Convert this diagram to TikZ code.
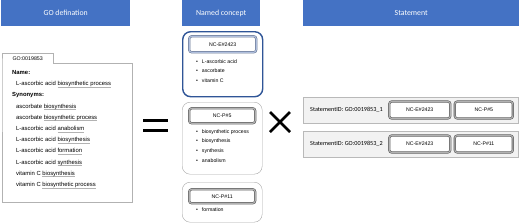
\documentclass[tikz,border=0pt]{standalone}
\usepackage{fontspec}
\setmainfont{Carlito}
\newfontfamily\arialfont{Liberation Sans}
\usetikzlibrary{positioning}
\definecolor{hdrblue}{HTML}{4472C4}
\definecolor{ncblue}{HTML}{2F5597}
\definecolor{ncframe}{HTML}{8EA4CF}
\definecolor{boxgray}{HTML}{A6A6A6}
\definecolor{rowfill}{HTML}{F2F2F2}
\definecolor{darkframe}{HTML}{595959}
\tikzset{
  header/.style   = {fill=hdrblue, text=white, anchor=north west,
                     minimum height=26pt, inner sep=0pt,
                     font=\fontsize{7.8}{9}\selectfont},
  gotext/.style   = {anchor=north west, align=left, inner sep=0pt,
                     font=\arialfont\fontsize{5.9}{11.2}\selectfont},
  concept/.style  = {draw=boxgray, rounded corners=8pt, anchor=north west,
                     minimum width=80pt, inner sep=0pt},
  ncbox/.style    = {draw=darkframe, line width=0.55pt, double=gray!60,
                     double distance=1.1pt, rounded corners=2.5pt, fill=white,
                     inner sep=0pt, font=\arialfont\fontsize{5.2}{6}\selectfont},
  ncboxblue/.style= {ncbox, draw=ncframe!70!black, double=ncframe!70},
  bullets/.style  = {anchor=north west, align=left, inner sep=0pt,
                     font=\arialfont\fontsize{5.2}{9.8}\selectfont},
  stmtrow/.style  = {draw=gray!55, fill=rowfill, anchor=north west,
                     minimum width=215pt, minimum height=26pt, inner sep=0pt},
  stmtid/.style   = {anchor=west, inner sep=0pt, font=\fontsize{6.2}{7}\selectfont},
  bigsign/.style  = {line width=3.2pt},
}
\newcommand{\bul}{\textbullet\hspace{4pt}}
\newcommand{\gul}[1]{\setbox0\hbox{#1}\rlap{\textcolor{gray!60}{\rule[-1.3pt]{\wd0}{0.35pt}}}\box0}

\begin{document}
\begin{tikzpicture}[x=1pt, y=-1pt]
    \useasboundingbox (0,0) rectangle (520,223);

    % column headers
    \node[header, minimum width=129pt] (hgo)   at (1,0)   {GO defination};
    \node[header, minimum width=78pt]  (hnc)   at (182,0) {Named concept};
    \node[header, minimum width=216pt] (hstmt) at (303,0) {Statement};

    % GO definition card
    \node[anchor=north west, minimum width=130pt, minimum height=139pt,
          inner sep=0pt] (gobody) at (2,63) {};
    \node[anchor=south west, minimum width=51pt, minimum height=9pt, inner sep=0pt,
          font=\arialfont\fontsize{5.3}{6}\selectfont] (gotab) at (gobody.north west) {GO:0019853};
    \draw[draw=gray!60] (gotab.south west) -- (gotab.north west) -- (gotab.north east)
      -- (gotab.south east) -- (gobody.north east) -- (gobody.south east)
      -- (gobody.south west) -- cycle;
    \node[gotext] (golines) at (12,70.3) {%
      \textbf{Name:}\\
      \hspace*{4pt}L-ascorbic acid \gul{biosynthetic process}\\
      \textbf{Synonyms:}\\
      \hspace*{4pt}ascorbate \gul{biosynthesis}\\
      \hspace*{4pt}ascorbate \gul{biosynthetic process}\\
      \hspace*{4pt}L-ascorbic acid \gul{anabolism}\\
      \hspace*{4pt}L-ascorbic acid \gul{biosynthesis}\\
      \hspace*{4pt}L-ascorbic acid \gul{formation}\\
      \hspace*{4pt}L-ascorbic acid \gul{synthesis}\\
      \hspace*{4pt}vitamin C \gul{biosynthesis}\\
      \hspace*{4pt}vitamin C \gul{biosynthetic process}};

    % equals
    \draw[bigsign] (143,120.7) -- (168,120.7);
    \draw[bigsign] (143,130.8) -- (168,130.8);

    % named concepts
    \node[concept, draw=ncblue, line width=1.4pt, minimum height=65pt] (c1) at (182,31) {};
    \node[ncboxblue, minimum width=67pt, minimum height=16pt, anchor=north] (nce) at ([yshift=-5pt]c1.north) {NC-E\#2423};
    \node[bullets] (l1) at ([xshift=7pt,yshift=-6.5pt]nce.south west) {%
      \bul L-ascorbic acid\\ \bul ascorbate\\ \bul vitamin C};

    \node[concept, minimum height=72pt] (c2) at (182,102) {};
    \node[ncbox, minimum width=66pt, minimum height=15pt, anchor=north] (ncp5) at ([yshift=-6pt]c2.north) {NC-P\#5};
    \node[bullets] (l2) at ([xshift=7pt,yshift=-5.5pt]ncp5.south west) {%
      \bul biosynthetic process\\ \bul biosynthesis\\ \bul synthesis\\ \bul anabolism};

    \node[concept, minimum height=40pt] (c3) at (182,182) {};
    \node[ncbox, minimum width=66pt, minimum height=14pt, anchor=north] (ncp11) at ([yshift=-7pt]c3.north) {NC-P\#11};
    \node[bullets] (l3) at ([xshift=7pt,yshift=-4pt]ncp11.south west) {\bul formation};

    % times
    \draw[bigsign, line width=2.8pt] (270,112) -- (290,132);
    \draw[bigsign, line width=2.8pt] (270,132) -- (290,112);

    % statements
    \node[stmtrow] (row1) at (303,97) {};
    \node[stmtid] (id1) at ([xshift=7pt]row1.west) {StatementID: GO:0019853\_1};
    \node[ncbox, minimum width=61pt, minimum height=17pt, anchor=west] (r1a) at (389,110) {NC-E\#2423};
    \node[ncbox, minimum width=58pt, minimum height=17pt, right=4pt of r1a] (r1b) {NC-P\#5};

    \node[stmtrow] (row2) at (303,131) {};
    \node[stmtid] (id2) at ([xshift=7pt]row2.west) {StatementID: GO:0019853\_2};
    \node[ncbox, minimum width=61pt, minimum height=17pt, anchor=west] (r2a) at (389,144) {NC-E\#2423};
    \node[ncbox, minimum width=58pt, minimum height=17pt, right=4pt of r2a] (r2b) {NC-P\#11};
\end{tikzpicture}
\end{document}
